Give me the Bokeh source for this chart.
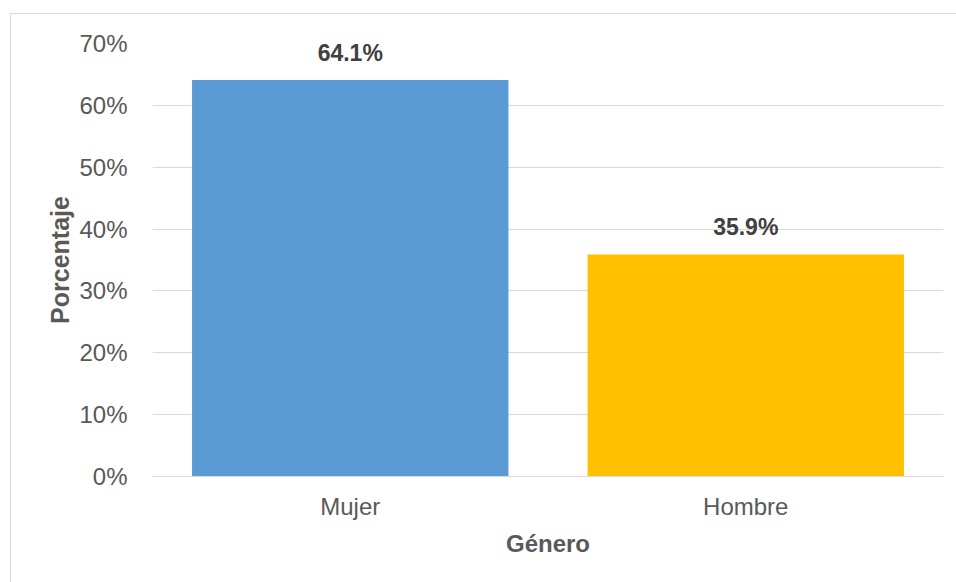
from bokeh.plotting import figure
from bokeh.models import ColumnDataSource, FactorRange, Range1d, NumeralTickFormatter, FixedTicker
from bokeh.core.properties import value
from bokeh.embed import file_html
from bokeh.resources import INLINE

categories = ["Mujer", "Hombre"]
values = [0.641, 0.359]
labels = ["64.1%", "35.9%"]
colors = ["#5B9BD5", "#FFC000"]
y_ticks = [0, 0.1, 0.2, 0.3, 0.4, 0.5, 0.6, 0.7]

src = ColumnDataSource(dict(cat=categories, val=values, lab=labels, col=colors))

FONT = "Liberation Sans"

p = figure(
    width=946, height=569,
    x_range=FactorRange(*categories, range_padding=0),
    y_range=Range1d(0, 0.7),
    output_backend="svg", toolbar_location=None, tools="",
    min_border_left=141, min_border_right=14, min_border_top=29, min_border_bottom=107,
)
p.margin = (13, 0, 0, 10)
p.styles = {"border-left": "1px solid #d9d9d9", "border-top": "1px solid #d9d9d9"}
p.outline_line_color = None
p.background_fill_color = "white"
p.border_fill_color = "white"

p.vbar(x="cat", top="val", width=0.8, fill_color="col", line_color=None, source=src)
p.text(x="cat", y="val", text="lab", source=src, text_align="center", text_baseline="bottom",
       y_offset=-14, text_font=value(FONT), text_font_size="23px", text_font_style="bold",
       text_color="#404040")

p.xgrid.grid_line_color = None
p.ygrid.grid_line_color = "#d9d9d9"
p.ygrid.grid_line_width = 1

p.yaxis.ticker = FixedTicker(ticks=y_ticks)
p.yaxis.formatter = NumeralTickFormatter(format="0%")
p.yaxis.axis_line_color = None
p.yaxis.major_tick_line_color = None
p.yaxis.minor_tick_line_color = None
p.yaxis.major_label_standoff = 19
p.yaxis.major_label_text_font = FONT
p.yaxis.major_label_text_font_size = "24px"
p.yaxis.major_label_text_color = "#595959"
p.yaxis.axis_label = "Porcentaje"
p.yaxis.axis_label_text_font = FONT
p.yaxis.axis_label_text_font_size = "25px"
p.yaxis.axis_label_text_font_style = "bold"
p.yaxis.axis_label_text_color = "#595959"
p.yaxis.axis_label_standoff = 2

p.xaxis.axis_line_color = "#d9d9d9"
p.xaxis.axis_line_width = 1
p.xaxis.major_tick_line_color = None
p.xaxis.minor_tick_line_color = None
p.xaxis.major_label_standoff = 10
p.xaxis.major_label_text_font = FONT
p.xaxis.major_label_text_font_size = "24px"
p.xaxis.major_label_text_color = "#595959"
p.xaxis.axis_label = "Género"
p.xaxis.axis_label_text_font = FONT
p.xaxis.axis_label_text_font_size = "24px"
p.xaxis.axis_label_text_font_style = "bold"
p.xaxis.axis_label_text_color = "#595959"
p.xaxis.axis_label_standoff = 7

open("out.html", "w").write(file_html(p, INLINE))
